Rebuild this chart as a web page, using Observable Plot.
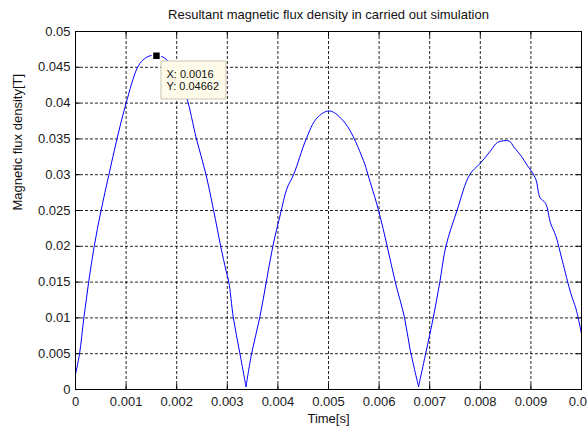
<!DOCTYPE html>
<html>
<head>
<meta charset="utf-8">
<script src="https://cdn.jsdelivr.net/npm/d3@7"></script>
<script src="https://cdn.jsdelivr.net/npm/@observablehq/plot@0.6"></script>
<style>
  html, body { margin: 0; padding: 0; background: #fff; overflow: hidden; }
</style>
</head>
<body>
<div id="chart"></div>
<script>
const title = "Resultant magnetic flux density in carried out simulation";
const xLabel = "Time[s]";
const yLabel = "Magnetic flux density[T]";

const time = [0, 0.00008, 0.000165, 0.00026, 0.00037, 0.000505, 0.00066, 0.00082, 0.001, 0.00122,
  0.00133, 0.00147, 0.0016, 0.00171, 0.00181, 0.00192, 0.00203, 0.00213, 0.0022, 0.00239,
  0.00258, 0.00273, 0.00287, 0.002975, 0.00303, 0.00312, 0.00325, 0.00337, 0.00348, 0.00364,
  0.00377, 0.0039, 0.00405, 0.00418, 0.00431, 0.00456, 0.00477, 0.00502, 0.00533, 0.00569,
  0.00578, 0.00599, 0.00616, 0.00632, 0.0065, 0.00661, 0.00678, 0.00692, 0.00707, 0.0072,
  0.00732, 0.00754, 0.00779, 0.008, 0.0082, 0.00834, 0.00857, 0.00866, 0.00883, 0.0089,
  0.00909, 0.00918, 0.00929, 0.00939, 0.00949, 0.00962, 0.00979, 0.00989, 0.01];
const flux = [0.0021, 0.005, 0.010, 0.015, 0.020, 0.025, 0.030, 0.035, 0.040, 0.0449,
  0.0460, 0.0466, 0.04662, 0.0465, 0.0460, 0.0449, 0.0434, 0.0418, 0.0407, 0.035,
  0.030, 0.025, 0.020, 0.0166, 0.015, 0.010, 0.005, 0.0004, 0.005, 0.010,
  0.015, 0.020, 0.0245, 0.0281, 0.030, 0.035, 0.0379, 0.0389, 0.0372, 0.032,
  0.030, 0.025, 0.020, 0.015, 0.0101, 0.0057, 0.0004, 0.005, 0.010, 0.015,
  0.020, 0.025, 0.030, 0.0316, 0.0333, 0.0345, 0.0347, 0.0339, 0.0324, 0.0316,
  0.0295, 0.0268, 0.026, 0.0232, 0.0215, 0.018, 0.0134, 0.0113, 0.0078];

const xTicks = [0, 0.001, 0.002, 0.003, 0.004, 0.005, 0.006, 0.007, 0.008, 0.009, 0.01];
const yTicks = [0, 0.005, 0.01, 0.015, 0.02, 0.025, 0.03, 0.035, 0.04, 0.045, 0.05];

const tipX = 0.0016;
const tipY = 0.04662;

// split the trace at its sharp minima so each arch is smoothed but the V-shaped dips stay sharp
const data = [];
let seg = 0;
time.forEach((t, i) => {
  data.push({t, b: flux[i], seg});
  const isMin = i > 0 && i < time.length - 1 && flux[i] < flux[i - 1] && flux[i] < flux[i + 1];
  if (isMin) { seg += 1; data.push({t, b: flux[i], seg}); }
});
const tip = [{x: tipX, y: tipY}];

// tooltip box drawn relative to the data-tip point
const tipBox = { draw(ctx) { ctx.rect(4.5, 5.3, 65, 38); } };

const plot = Plot.plot({
  width: 588,
  height: 426,
  marginLeft: 75,
  marginRight: 7,
  marginTop: 31,
  marginBottom: 37,
  style: { fontFamily: "'Liberation Sans', Arial, sans-serif", fontSize: "13px", color: "#1a1a1a", background: "#fff" },
  x: { domain: [0, 0.01], ticks: xTicks, tickFormat: d => String(d), tickSize: 0, tickPadding: 7, label: null },
  y: { domain: [0, 0.05], ticks: yTicks, tickFormat: d => String(d), tickSize: 0, tickPadding: 5, label: null },
  marks: [
    Plot.ruleX(xTicks, { stroke: "#000", strokeOpacity: 0.85, strokeDasharray: "3,2" }),
    Plot.ruleY(yTicks, { stroke: "#000", strokeOpacity: 0.85, strokeDasharray: "3,2" }),
    Plot.ruleX(xTicks, { stroke: "#000", insetTop: 353 }),
    Plot.ruleX(xTicks, { stroke: "#000", insetBottom: 353 }),
    Plot.ruleY(yTicks, { stroke: "#000", insetRight: 501 }),
    Plot.ruleY(yTicks, { stroke: "#000", insetLeft: 501 }),
    Plot.line(data, { x: "t", y: "b", z: "seg", curve: "catmull-rom", stroke: "#0000ff", strokeWidth: 1 }),
    Plot.frame({ stroke: "#000" }),
    Plot.dot(tip, { x: "x", y: "y", symbol: tipBox, r: 5, fill: "#fffbea", stroke: "#c9c4b4", strokeWidth: 1 }),
    Plot.dot(tip, { x: "x", y: "y", symbol: "square", r: 4.5, fill: "#000", stroke: "#fff", strokeWidth: 1.5 }),
    Plot.text(tip, { x: "x", y: "y", text: d => `X: ${d.x}\nY: ${d.y}`, textAnchor: "start", lineAnchor: "top",
      dx: 10, dy: 13, fontSize: 11, lineHeight: 1.14, fill: "#111" }),
    Plot.text([title], { frameAnchor: "top", dy: -13, lineAnchor: "bottom", fontSize: 13, fill: "#111" }),
    Plot.text([xLabel], { frameAnchor: "bottom", dy: 33, lineAnchor: "bottom", fontSize: 13, fill: "#111" }),
    Plot.text([yLabel], { frameAnchor: "left", rotate: -90, dx: -54, lineAnchor: "bottom", fontSize: 13, fill: "#111" })
  ]
});
document.getElementById("chart").appendChild(plot);
</script>
</body>
</html>
